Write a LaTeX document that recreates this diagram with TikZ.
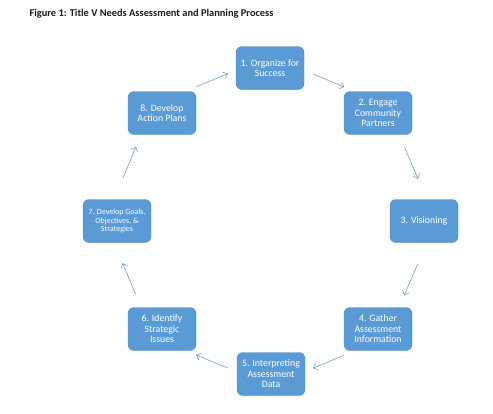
\documentclass[tikz,border=0pt]{standalone}
\usepackage{fontspec}
\setmainfont{Carlito}
\usetikzlibrary{
    arrows.meta,
    calc,
    positioning
}
\definecolor{boxblue}{HTML}{5B9BD5}
\definecolor{linkblue}{HTML}{7FA7D0}
\definecolor{dark}{HTML}{1A1A1A}
\tikzset{
    % Process step box
    stepbox/.style={
        rectangle,
        rounded corners=6pt,
        minimum width=68pt,
        minimum height=43pt,
        align=center,
        font=\fontsize{9.8}{10.6}\selectfont,
        text=white,
        draw=boxblue!88!black,
        fill=boxblue,
        line width=0.4pt,
        inner sep=1pt
    },
    % Arrow between steps
    loopflow/.style={
        -{Straight Barb[length=4pt, width=7pt]},
        line width=0.7pt,
        color=linkblue
    },
    % Figure caption
    figtitle/.style={
        font=\fontsize{10.4}{12}\selectfont\bfseries,
        text=dark,
        anchor=west
    }
}

\begin{document}
\begin{tikzpicture}[x=1pt, y=-1pt]
        \useasboundingbox (0,0) rectangle (493,413);

        % Caption
        \node[figtitle] (title) at (26, 14) {Figure 1: Title V Needs Assessment and Planning Process};

        % Steps
        \node[stepbox] (o1) at (270, 68) {1. Organize for\\Success};
        \node[stepbox] (o2) at (378, 113) {2. Engage\\Community\\Partners};
        \node[stepbox] (o3) at (424, 221) {3. Visioning};
        \node[stepbox] (o4) at (378, 329) {4. Gather\\Assessment\\Information};
        \node[stepbox] (o5) at (271, 374) {5. Interpreting\\Assessment\\Data};
        \node[stepbox] (o6) at (162, 329) {6. Identify\\Strategic\\Issues};
        \node[stepbox, font=\fontsize{8}{8.8}\selectfont] (o7) at (117, 221) {7. Develop Goals,\\Objectives, \&\\Strategies};
        \node[stepbox] (o8) at (162, 113) {8. Develop\\Action Plans};

        % Connections
        \draw[loopflow] ($(o1)!0.36!(o2)!11pt!90:(o2)$) -- ($(o1)!0.65!(o2)!11pt!90:(o2)$);
        \draw[loopflow] ($(o2)!0.36!(o3)!11pt!90:(o3)$) -- ($(o2)!0.65!(o3)!11pt!90:(o3)$);
        \draw[loopflow] ($(o3)!0.36!(o4)!11pt!90:(o4)$) -- ($(o3)!0.65!(o4)!11pt!90:(o4)$);
        \draw[loopflow] ($(o4)!0.36!(o5)!11pt!90:(o5)$) -- ($(o4)!0.65!(o5)!11pt!90:(o5)$);
        \draw[loopflow] ($(o5)!0.36!(o6)!11pt!90:(o6)$) -- ($(o5)!0.65!(o6)!11pt!90:(o6)$);
        \draw[loopflow] ($(o6)!0.36!(o7)!11pt!90:(o7)$) -- ($(o6)!0.65!(o7)!11pt!90:(o7)$);
        \draw[loopflow] ($(o7)!0.36!(o8)!11pt!90:(o8)$) -- ($(o7)!0.65!(o8)!11pt!90:(o8)$);
        \draw[loopflow] ($(o8)!0.36!(o1)!11pt!90:(o1)$) -- ($(o8)!0.65!(o1)!11pt!90:(o1)$);

    \end{tikzpicture}
\end{document}
